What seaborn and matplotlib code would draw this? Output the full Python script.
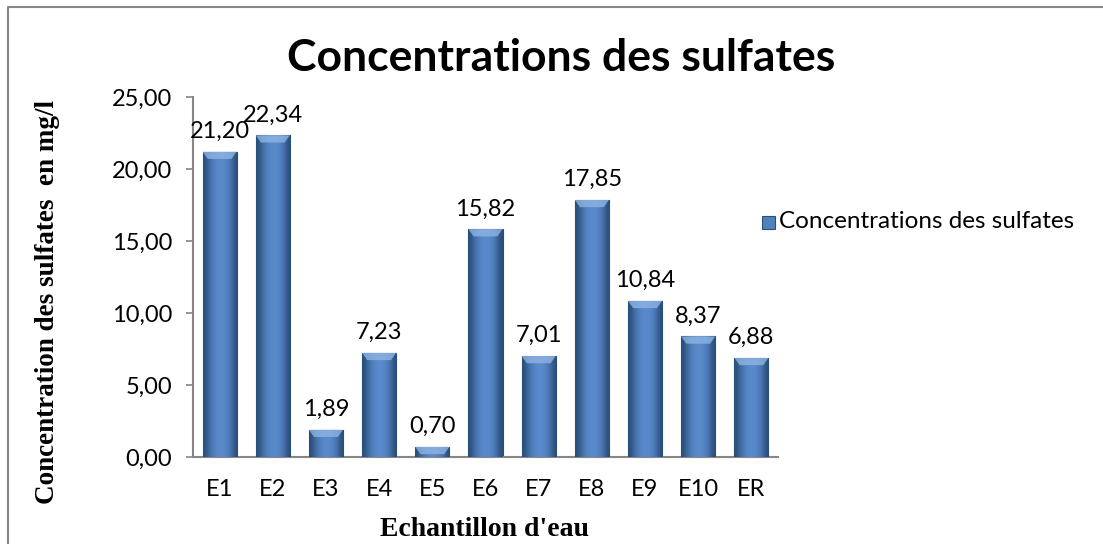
import numpy as np
import pandas as pd
import matplotlib
matplotlib.use("Agg")
import matplotlib.pyplot as plt
from matplotlib.patches import Rectangle, Polygon
import seaborn as sns

echantillons = ["E1", "E2", "E3", "E4", "E5", "E6", "E7", "E8", "E9", "E10", "ER"]
sulfates = [21.20, 22.34, 1.89, 7.23, 0.70, 15.82, 7.01, 17.85, 10.84, 8.37, 6.88]
y_ticks = [0, 5, 10, 15, 20, 25]

df = pd.DataFrame({"ech": echantillons, "val": sulfates})

sns.set_style("white")
plt.rcParams["font.family"] = ["Lato", "DejaVu Sans"]
plt.rcParams["text.color"] = "black"
plt.rcParams["xtick.color"] = "black"
plt.rcParams["ytick.color"] = "black"

fig = plt.figure(figsize=(11.03, 5.44), dpi=100)
ax = fig.add_axes([193 / 1103, 1 - 457 / 544, 585 / 1103, 360 / 544])

sns.barplot(data=df, x="ech", y="val", color="#4F81BD", width=0.64,
            edgecolor="#2C4D75", linewidth=0.8, ax=ax, zorder=2)

# cylinder-like shading on each bar
cyl = matplotlib.colors.LinearSegmentedColormap.from_list("cyl", ["#2A4E7A", "#5A8ACB"])
grad = np.array([[0.0, 0.45, 0.75, 0.9, 0.9, 0.8, 0.5, 0.0]])
for p in list(ax.patches):
    x0, w, h = p.get_x(), p.get_width(), p.get_height()
    img = ax.imshow(grad, cmap=cyl, extent=[x0, x0 + w, 0, h],
                    aspect="auto", interpolation="bicubic", zorder=3)
    img.set_clip_path(p)
    cap = min(0.5, h)
    ax.add_patch(Polygon([(x0, h), (x0 + w, h), (x0 + w * 0.85, h - cap),
                          (x0 + w * 0.15, h - cap)], closed=True,
                         facecolor="#8EB4E3", edgecolor="none", alpha=0.8, zorder=4))

for i, v in enumerate(sulfates):
    ax.annotate(f"{v:.2f}".replace(".", ","), (i, v), xytext=(0, 7),
                textcoords="offset points", ha="center", va="bottom",
                fontsize=17, zorder=5)

ax.set_xlim(-0.5, len(echantillons) - 0.5)
ax.set_ylim(0, 25)
ax.set_yticks(y_ticks)
ax.set_yticklabels([f"{t:.2f}".replace(".", ",") for t in y_ticks])
ax.tick_params(axis="y", left=True, length=5, width=1.2, color="#868686",
               labelsize=17, pad=10)
ax.tick_params(axis="x", bottom=False, labelsize=17, pad=12)
for s in ["top", "right"]:
    ax.spines[s].set_visible(False)
for s in ["left", "bottom"]:
    ax.spines[s].set_color("#868686")
    ax.spines[s].set_linewidth(1.5)
ax.set_xlabel("")
ax.set_ylabel("")

fig.text(485 / 1103, 1 - 530 / 544, "Echantillon d'eau", family="Liberation Serif",
         weight="bold", fontsize=20, ha="center", va="center")
fig.text(48 / 1103, 1 - 302 / 544, "Concentration des sulfates  en mg/l",
         family="Liberation Serif", weight="bold", fontsize=19.5, rotation=90,
         ha="center", va="center")
fig.text(561 / 1103, 1 - 58 / 544, "Concentrations des sulfates", weight="bold",
         fontsize=32, ha="center", va="center")

# legend
fig.patches.append(Rectangle((762 / 1103, 1 - 229 / 544), 13 / 1103, 13 / 544,
                             transform=fig.transFigure, facecolor="#4F81BD",
                             edgecolor="#2C4D75", linewidth=0.8))
fig.text(779 / 1103, 1 - 222 / 544, "Concentrations des sulfates", fontsize=17.5,
         ha="left", va="center")

# chart border
fig.add_artist(plt.Line2D([8 / 1103, 8 / 1103, 1], [0, 1 - 7 / 544, 1 - 7 / 544],
                          transform=fig.transFigure, color="#868686", linewidth=1.5))

fig.savefig("out.png", dpi=100)
